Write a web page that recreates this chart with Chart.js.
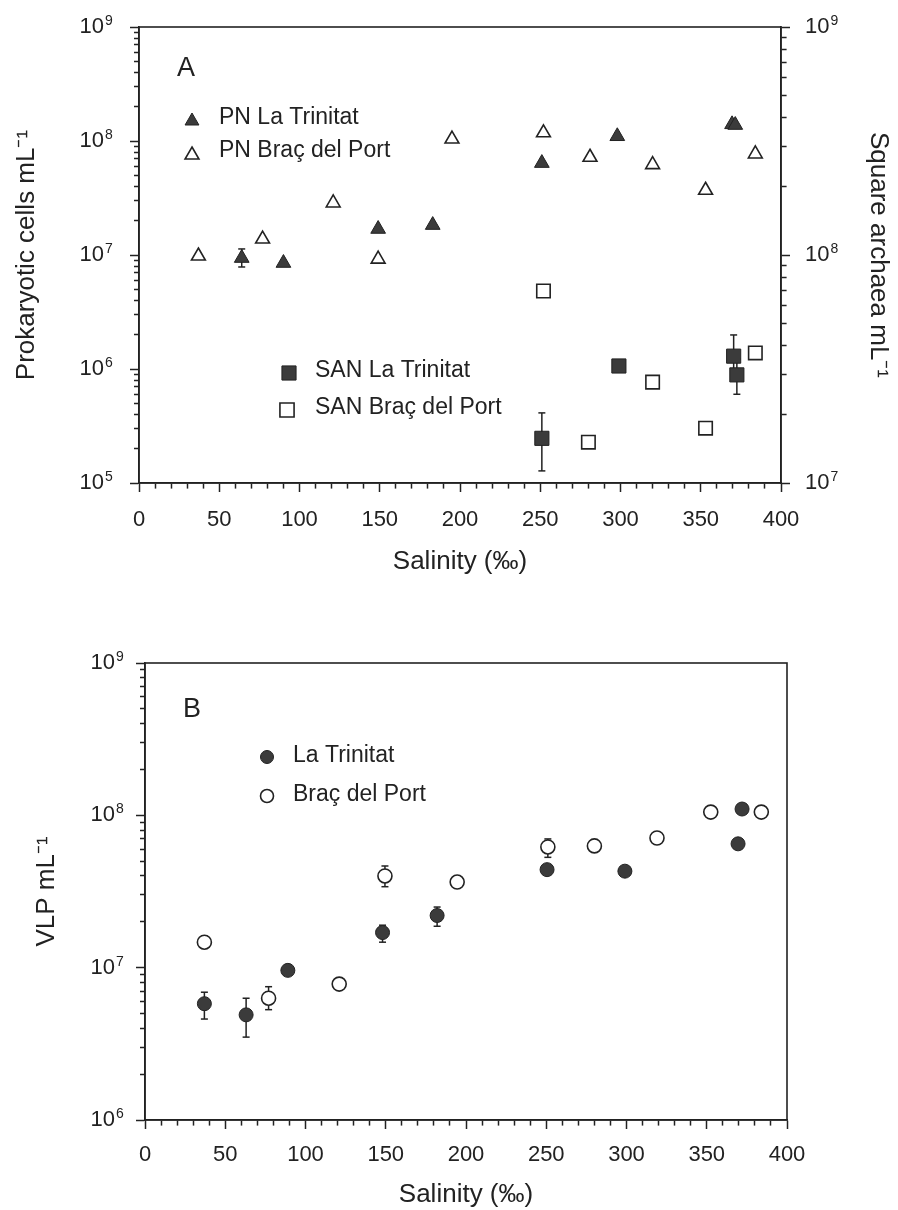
<!DOCTYPE html>
<html>
<head>
<meta charset="utf-8">
<script src="https://cdn.jsdelivr.net/npm/chart.js@4.4.1/dist/chart.umd.min.js"></script>
<style>
  html, body { margin: 0; padding: 0; background: #fff; }
  .panel { position: absolute; left: 0; width: 898px; height: 605px; }
  #wrapA { top: 0; }
  #wrapB { top: 605px; }
</style>
</head>
<body>
<div class="panel" id="wrapA"><canvas id="chartA" width="898" height="605"></canvas></div>
<div class="panel" id="wrapB"><canvas id="chartB" width="898" height="605"></canvas></div>
<script>
/* Salinity panels: A = prokaryotes + square archaea, B = VLP */

// ---- Panel A: prokaryotic cells (left axis)
const pnTrinSal = [64, 90, 149, 183, 251, 298, 369.5, 371.5];
const pnTrinVal = [9.4e6, 8.5e6, 1.69e7, 1.83e7, 6.4e7, 1.1e8, 1.4e8, 1.38e8];
const pnTrinErrSal = [64];
const pnTrinErrLo = [7.85e6];
const pnTrinErrHi = [1.13e7];

const pnBracSal = [37, 77, 121, 149, 195, 252, 281, 320, 353, 384];
const pnBracVal = [9.8e6, 1.38e7, 2.86e7, 9.2e6, 1.04e8, 1.18e8, 7.2e7, 6.2e7, 3.7e7, 7.7e7];

// ---- Panel A: square archaea (right axis)
const sanTrinSal = [251, 299, 370.5, 372.5];
const sanTrinVal = [1.57e7, 3.26e7, 3.6e7, 2.98e7];
const sanTrinErrSal = [251, 370.5, 372.5];
const sanTrinErrLo = [1.13e7, 3.0e7, 2.45e7];
const sanTrinErrHi = [2.03e7, 4.46e7, 3.5e7];

const sanBracSal = [252, 280, 320, 353, 384];
const sanBracVal = [6.95e7, 1.51e7, 2.77e7, 1.74e7, 3.72e7];

// ---- Panel B: VLP
const vlpTrinSal = [37, 63, 89, 148, 182, 250.5, 299, 369.5, 372];
const vlpTrinVal = [5.8e6, 4.9e6, 9.6e6, 1.7e7, 2.2e7, 4.4e7, 4.3e7, 6.5e7, 1.1e8];
const vlpTrinErrSal = [37, 63, 148, 182];
const vlpTrinErrLo = [4.6e6, 3.5e6, 1.47e7, 1.87e7];
const vlpTrinErrHi = [6.9e6, 6.3e6, 1.9e7, 2.5e7];

const vlpBracSal = [37, 77, 121, 149.5, 194.5, 251, 280, 319, 352.5, 384];
const vlpBracVal = [1.47e7, 6.3e6, 7.8e6, 4.0e7, 3.65e7, 6.2e7, 6.3e7, 7.1e7, 1.05e8, 1.05e8];
const vlpBracErrSal = [37, 77, 149.5, 194.5, 251, 352.5, 384];
const vlpBracErrLo = [1.35e7, 5.3e6, 3.4e7, 3.4e7, 5.3e7, 1.0e8, 1.0e8];
const vlpBracErrHi = [1.6e7, 7.5e6, 4.65e7, 3.9e7, 7.0e7, 1.1e8, 1.1e8];

// ---- axes / tick labels (decade labels are "10" + raised exponent)
const salMin = 0, salMax = 400, salMinorStep = 10, salMajorStep = 50;
const decadesA = [1e5, 1e6, 1e7, 1e8, 1e9];
const decadeExpA = ['5', '6', '7', '8', '9'];
const decadesA2 = [1e7, 1e8, 1e9];
const decadeExpA2 = ['7', '8', '9'];
const decadesB = [1e6, 1e7, 1e8, 1e9];
const decadeExpB = ['6', '7', '8', '9'];
const decadeBase = '10';
const minorSteps = [2, 3, 4, 5, 6, 7, 8, 9];

const INK = '#222';
const FILL = '#3b3b3b';
const FONT = '"Liberation Sans", Arial, Helvetica, sans-serif';
const TICK_FONT = 22;
const EXP_FONT = 14;
const TICK_LEN = 9;

Chart.defaults.font.family = FONT;
Chart.defaults.color = INK;

function pts(sal, val) {
  return sal.map((s, i) => ({ x: s, y: val[i] }));
}

function errPts(sal, lo, hi) {
  const out = [];
  sal.forEach((s, i) => {
    out.push({ x: s, y: lo[i] }, { x: s, y: hi[i] }, { x: s, y: null });
  });
  return out;
}

function logTicks(decades) {
  const out = [];
  decades.forEach((d, i) => {
    out.push({ value: d, major: true });
    if (i < decades.length - 1) minorSteps.forEach((m) => out.push({ value: d * m, major: false }));
  });
  return out;
}

function markerSet(label, data, style, filled, radius, axis) {
  return {
    label,
    data,
    yAxisID: axis,
    pointStyle: style,
    pointRadius: radius,
    pointBackgroundColor: filled ? FILL : '#fff',
    pointBorderColor: INK,
    pointBorderWidth: filled ? 1 : 1.6,
    showLine: false,
  };
}

function errSet(data, axis) {
  return {
    label: 'err',
    data,
    yAxisID: axis,
    showLine: true,
    spanGaps: false,
    borderColor: INK,
    borderWidth: 1.5,
    pointStyle: 'line',
    pointRadius: 3.5,
    pointBorderColor: INK,
    pointBorderWidth: 1.5,
  };
}

// left ticks are drawn outer end -> axis, right/bottom ticks axis -> outer end
const MINOR_DASH_OUTER_FIRST = [0, 4, 5, 100];
const MINOR_DASH_AXIS_FIRST = [5, 100];

function salinityAxis(height, labelPad, titlePad) {
  return {
    type: 'linear',
    position: 'bottom',
    min: salMin,
    max: salMax,
    afterFit: (scale) => { scale.height = height; },
    border: { color: INK, width: 1.6 },
    grid: {
      drawOnChartArea: false,
      tickLength: TICK_LEN,
      tickColor: INK,
      tickWidth: 1.5,
      tickBorderDash: (ctx) => (ctx.tick && ctx.tick.value % salMajorStep === 0 ? [] : MINOR_DASH_AXIS_FIRST),
    },
    ticks: {
      stepSize: salMinorStep,
      autoSkip: false,
      maxRotation: 0,
      padding: labelPad,
      font: { size: TICK_FONT },
      color: INK,
      callback: (v) => (v % salMajorStep === 0 ? String(v) : ''),
    },
    title: {
      display: true,
      text: 'Salinity (‰)',
      font: { size: 26 },
      color: INK,
      padding: { top: 0, bottom: titlePad },
    },
  };
}

function logAxis(position, decades, width, labelPad, titleText, titlePad) {
  const dash = position === 'left' ? MINOR_DASH_OUTER_FIRST : MINOR_DASH_AXIS_FIRST;
  return {
    type: 'logarithmic',
    position,
    min: decades[0],
    max: decades[decades.length - 1],
    afterFit: (scale) => {
      scale.width = width;
      // plot box is set by layout padding, not by label overhang
      scale.paddingTop = 0;
      scale.paddingBottom = 0;
    },
    afterBuildTicks: (scale) => { scale.ticks = logTicks(decades); },
    border: { color: INK, width: 1.6 },
    grid: {
      drawOnChartArea: false,
      tickLength: TICK_LEN,
      tickColor: INK,
      tickWidth: 1.5,
      tickBorderDash: (ctx) => (ctx.tick && decades.includes(ctx.tick.value) ? [] : dash),
    },
    ticks: {
      autoSkip: false,
      padding: labelPad,
      font: { size: TICK_FONT },
      color: INK,
      callback: (v) => (decades.includes(v) ? decadeBase : ''),
    },
    title: {
      display: true,
      text: titleText,
      font: { size: 26 },
      color: INK,
      padding: { top: titlePad, bottom: 0 },
    },
  };
}

function drawMarker(ctx, style, filled, x, y, r) {
  ctx.save();
  ctx.beginPath();
  if (style === 'triangle') {
    ctx.moveTo(x, y - r);
    ctx.lineTo(x + r * 0.866, y + r * 0.5);
    ctx.lineTo(x - r * 0.866, y + r * 0.5);
    ctx.closePath();
  } else if (style === 'rect') {
    const s = r * Math.SQRT1_2;
    ctx.rect(x - s, y - s, 2 * s, 2 * s);
  } else {
    ctx.arc(x, y, r, 0, Math.PI * 2);
  }
  ctx.fillStyle = filled ? FILL : '#fff';
  ctx.fill();
  ctx.lineWidth = filled ? 1 : 1.6;
  ctx.strokeStyle = INK;
  ctx.stroke();
  ctx.restore();
}

// frame, decade exponents, panel letter and in-plot legends
const panelDecor = {
  id: 'panelDecor',
  afterDraw(chart, args, opts) {
    const { ctx, chartArea } = chart;
    ctx.save();
    ctx.lineWidth = 1.6;
    ctx.strokeStyle = INK;
    ctx.strokeRect(chartArea.left, chartArea.top, chartArea.right - chartArea.left, chartArea.bottom - chartArea.top);

    // raised exponents next to the "10" tick labels
    ctx.fillStyle = INK;
    ctx.textBaseline = 'alphabetic';
    (opts.exponents || []).forEach((e) => {
      const scale = chart.scales[e.axis];
      const pad = scale.options.ticks.padding + TICK_LEN;
      ctx.font = TICK_FONT + 'px ' + FONT;
      const baseW = ctx.measureText(decadeBase).width;
      const xBaseEnd = scale.position === 'left' ? scale.right - pad : scale.left + pad + baseW;
      ctx.font = EXP_FONT + 'px ' + FONT;
      ctx.textAlign = 'left';
      e.decades.forEach((d, i) => {
        const py = scale.getPixelForValue(d);
        ctx.fillText(e.labels[i], xBaseEnd + 1, py - 2);
      });
    });

    ctx.textAlign = 'left';
    ctx.font = '27px ' + FONT;
    ctx.fillText(opts.letter, opts.letterX, opts.letterY);

    ctx.font = '23px ' + FONT;
    ctx.textBaseline = 'middle';
    (opts.items || []).forEach((it) => {
      drawMarker(ctx, it.style, it.filled, it.mx, it.my, it.r);
      ctx.fillStyle = INK;
      ctx.fillText(it.text, it.tx, it.ty);
    });
    ctx.restore();
  },
};

function build() {
  new Chart(document.getElementById('chartA'), {
    type: 'scatter',
    data: {
      datasets: [
        markerSet('PN La Trinitat', pts(pnTrinSal, pnTrinVal), 'triangle', true, 8.5, 'y'),
        markerSet('PN Braç del Port', pts(pnBracSal, pnBracVal), 'triangle', false, 8, 'y'),
        markerSet('SAN La Trinitat', pts(sanTrinSal, sanTrinVal), 'rect', true, 10, 'y2'),
        markerSet('SAN Braç del Port', pts(sanBracSal, sanBracVal), 'rect', false, 9.5, 'y2'),
        errSet(errPts(pnTrinErrSal, pnTrinErrLo, pnTrinErrHi), 'y'),
        errSet(errPts(sanTrinErrSal, sanTrinErrLo, sanTrinErrHi), 'y2'),
      ],
    },
    options: {
      responsive: false,
      animation: false,
      events: [],
      layout: { padding: { top: 27, left: 0, right: 0, bottom: 0 } },
      scales: {
        x: salinityAxis(122, 15, 28),
        y: logAxis('left', decadesA, 139, 26, 'Prokaryotic cells mL⁻¹', 11),
        y2: logAxis('right', decadesA2, 117, 15, 'Square archaea mL⁻¹', 4),
      },
      plugins: {
        legend: { display: false },
        tooltip: { enabled: false },
        panelDecor: {
          exponents: [
            { axis: 'y', decades: decadesA, labels: decadeExpA },
            { axis: 'y2', decades: decadesA2, labels: decadeExpA2 },
          ],
          letter: 'A', letterX: 177, letterY: 76,
          items: [
            { style: 'triangle', filled: true, r: 8, mx: 192, my: 121, text: 'PN La Trinitat', tx: 219, ty: 118 },
            { style: 'triangle', filled: false, r: 8, mx: 192, my: 155, text: 'PN Braç del Port', tx: 219, ty: 151 },
            { style: 'rect', filled: true, r: 10, mx: 289, my: 373, text: 'SAN La Trinitat', tx: 315, ty: 371 },
            { style: 'rect', filled: false, r: 10, mx: 287, my: 410, text: 'SAN Braç del Port', tx: 315, ty: 408 },
          ],
        },
      },
    },
    plugins: [panelDecor],
  });

  new Chart(document.getElementById('chartB'), {
    type: 'scatter',
    data: {
      datasets: [
        markerSet('La Trinitat', pts(vlpTrinSal, vlpTrinVal), 'circle', true, 7, 'y'),
        markerSet('Braç del Port', pts(vlpBracSal, vlpBracVal), 'circle', false, 7, 'y'),
        errSet(errPts(vlpTrinErrSal, vlpTrinErrLo, vlpTrinErrHi), 'y'),
        errSet(errPts(vlpBracErrSal, vlpBracErrLo, vlpBracErrHi), 'y'),
      ],
    },
    options: {
      responsive: false,
      animation: false,
      events: [],
      layout: { padding: { top: 58, left: 0, right: 111, bottom: 0 } },
      scales: {
        x: salinityAxis(90, 13, 0),
        y: logAxis('left', decadesB, 145, 21, 'VLP mL⁻¹', 31),
      },
      plugins: {
        legend: { display: false },
        tooltip: { enabled: false },
        panelDecor: {
          exponents: [
            { axis: 'y', decades: decadesB, labels: decadeExpB },
          ],
          letter: 'B', letterX: 183, letterY: 112,
          items: [
            { style: 'circle', filled: true, r: 6.5, mx: 267, my: 152, text: 'La Trinitat', tx: 293, ty: 151 },
            { style: 'circle', filled: false, r: 6.5, mx: 267, my: 191, text: 'Braç del Port', tx: 293, ty: 190 },
          ],
        },
      },
    },
    plugins: [panelDecor],
  });
}

build();
</script>
</body>
</html>
